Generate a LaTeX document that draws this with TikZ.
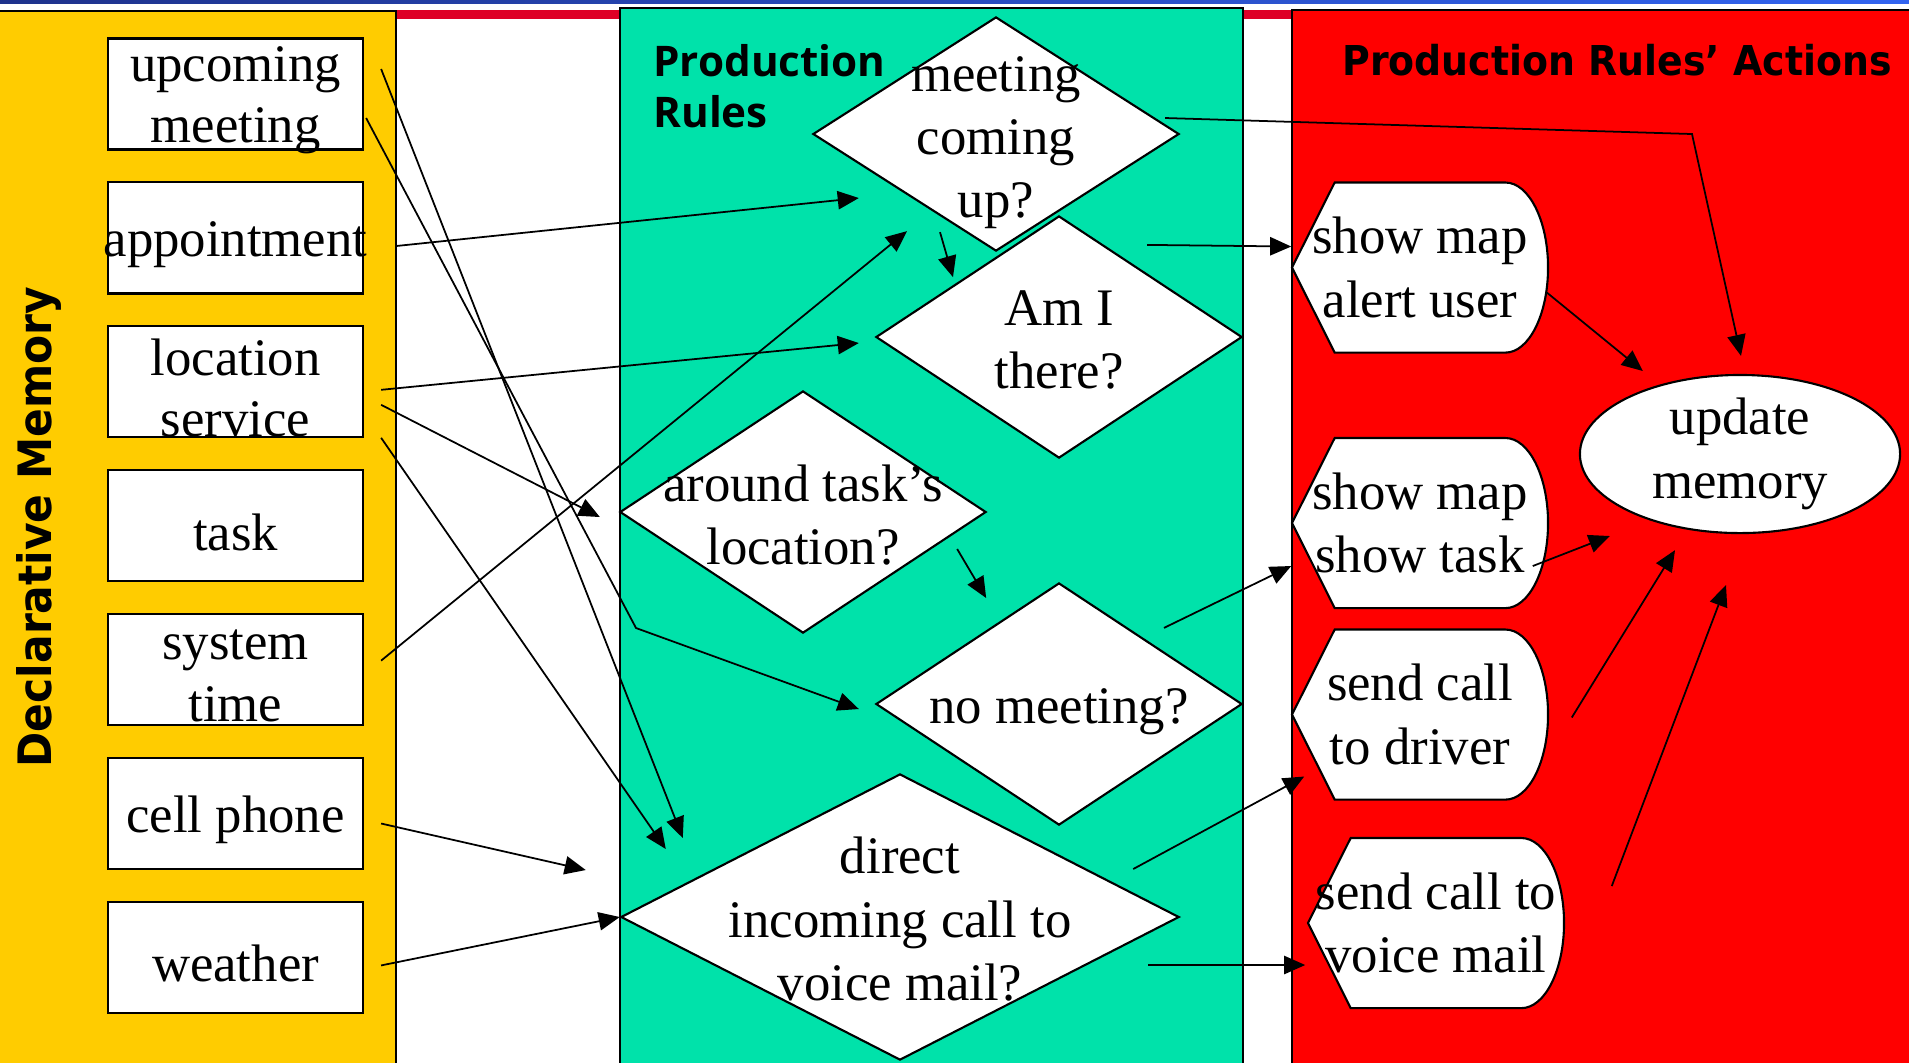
\documentclass[tikz,border=0pt]{standalone}
\usepackage{fontspec}
\setmainfont{Liberation Serif}
\newfontfamily\dmfont{DejaVu Sans}[FakeStretch=0.92]
\newfontfamily\prfont{Open Sans}
\usetikzlibrary{shapes.geometric,arrows.meta}

\definecolor{dmyellow}{RGB}{255,204,0}
\definecolor{prgreen}{RGB}{0,226,170}
\definecolor{actred}{RGB}{255,0,0}
\definecolor{stripred}{RGB}{222,0,38}
\definecolor{bandleft}{RGB}{30,50,140}
\definecolor{bandright}{RGB}{50,100,240}

\begin{document}
\begin{tikzpicture}[x=0.01cm, y=-0.01cm,
    memcell/.style={draw, fill=white, line width=0.6pt, minimum width=2.55cm, minimum height=1.11cm, inner sep=0pt},
    memtext/.style={align=center, inner sep=0pt, font=\fontsize{15}{17.5}\selectfont},
    rule/.style={diamond, draw, fill=white, line width=0.6pt, inner sep=0pt},
    ruletext/.style={align=center, inner sep=0pt, font=\fontsize{15}{18}\selectfont},
    actionshape/.style={fill=white, line width=0.6pt},
    action/.style={minimum width=2.56cm, minimum height=1.7cm, inner sep=0pt, align=center,
      font=\fontsize{15}{18}\selectfont},
    link/.style={line width=0.5pt, -{Triangle[length=6pt,width=5.2pt]}}]
    \useasboundingbox (0,0) rectangle (1909,1062);
    % background bands and panels
    \shade[left color=bandleft, right color=bandright] (0,0) rectangle (1909,3);
    \fill[stripred] (396,10) rectangle (1292,19);
    \filldraw[fill=dmyellow, line width=0.5pt] (-5,11) rectangle (396,1070);
    \filldraw[fill=prgreen, line width=0.5pt] (620,8) rectangle (1243,1070);
    \filldraw[fill=actred, line width=0.5pt] (1292,10) rectangle (1915,1070);
    \node[font=\dmfont\bfseries\fontsize{13.1}{15}\selectfont, rotate=90] (dmtitle) at (39,527) {Declarative Memory};
    \node[font=\prfont\bfseries\fontsize{12}{14.5}\selectfont, align=left, anchor=west] (prtitle) at (641,86) {Production\\Rules};
    \node[font=\dmfont\bfseries\fontsize{11.7}{13}\selectfont] (acttitle) at (1617,60) {Production Rules’ Actions};
    % declarative memory
    \foreach \nm/\txt [count=\i from 0] in {um/{upcoming\\meeting}, appt/appointment, locs/{location\\service},
        task/task, syst/{system\\time}, cell/cell phone, wthr/weather}{
      \node[memcell] (\nm) at (235.5,{94+143.9*\i}) {};
      \node[memtext] (\nm-t) at ([yshift=-1.8pt]\nm) {\txt};
    }
    % production rules
    \node[rule, minimum width=3.66cm, minimum height=2.34cm] (mcu) at (996,134) {};
    \node[rule, minimum width=3.66cm, minimum height=2.42cm] (ami) at (1059,337) {};
    \node[rule, minimum width=3.66cm, minimum height=2.42cm] (atl) at (803,512) {};
    \node[rule, minimum width=3.66cm, minimum height=2.42cm] (nom) at (1059,704) {};
    \node[rule, minimum width=5.58cm, minimum height=2.86cm] (dic) at (900,917) {};
    \node[ruletext] (mcu-t) at ([yshift=-2.4pt]mcu) {meeting\\coming\\up?};
    \node[ruletext] (ami-t) at ([yshift=-0.8pt]ami) {Am I\\there?};
    \node[ruletext] (atl-t) at ([yshift=-0.9pt]atl) {around task’s\\location?};
    \node[ruletext] (nom-t) at ([yshift=-2.3pt]nom) {no meeting?};
    \node[ruletext] (dic-t) at ([yshift=-0.6pt]dic) {direct\\incoming call to\\voice mail?};
    % actions
    \foreach \nm/\cx/\cy/\txt in {smau/1420/267.5/{show map\\alert user}, smst/1420/523/{show map\\show task},
        scd/1420/714.5/{send call\\to driver}, scv/1436/923/{send call to\\voice mail}}{
      \filldraw[actionshape] ({\cx-128},\cy) -- ++(42.67,-85) -- ++(170.67,0)
        arc[start angle=90, end angle=-90, x radius=0.4267cm, y radius=0.85cm] -- ++(-170.67,0) -- cycle;
      \node[action] (\nm) at (\cx,\cy) {\txt};
    }
    \node[ellipse, draw, fill=white, line width=0.6pt, minimum width=3.2cm, minimum height=1.58cm,
      inner sep=0pt, align=center, font=\fontsize{15}{18}\selectfont] (upd) at (1740,454) {update\\memory};
    % connectors
    \draw[link] ([shift={(17,-25)}]um.east) -- ([shift={(63,-79)}]dic.west);
    \draw[link] ([shift={(2,24)}]um.east) -- (636,628) -- ([shift={(-16,5)}]nom.west);
    \draw[link] ([shift={(33,8)}]appt.east) -- ([shift={(47,64)}]mcu.west);
    \draw[link] ([shift={(17,8)}]locs.east) -- ([shift={(-16,6)}]ami.west);
    \draw[link] ([shift={(17,23)}]locs.east) -- ([shift={(-19,5)}]atl.west);
    \draw[link] ([shift={(17,56)}]locs.east) -- ([shift={(46,-68)}]dic.west);
    \draw[link] ([shift={(17,-9)}]syst.east) -- ([shift={(-89,-21)}]mcu.south);
    \draw[link] ([shift={(17,10)}]cell.east) -- ([shift={(-34,-47)}]dic.west);
    \draw[link] ([shift={(17,8)}]wthr.east) -- (dic.west);
    \draw[link] ([shift={(-56,-20)}]mcu.south) -- ([shift={(-43,25)}]mcu.south);
    \draw[link] ([shift={(-15,-16)}]mcu.east) -- (1692,134) -- ([shift={(1,-18)}]upd.north);
    \draw[link] ([shift={(88,30)}]ami.north) -- ([shift={(0,-21)}]smau.west);
    \draw[link] ([shift={(-30,37)}]atl.east) -- ([shift={(-1,86)}]atl.east);
    \draw[link] ([shift={(105,46)}]nom.north) -- ([shift={(0,43)}]smst.west);
    \draw[link] ([shift={(-47,-48)}]dic.east) -- ([shift={(13,62)}]scd.west);
    \draw[link] ([shift={(-32,48)}]dic.east) -- ([shift={(-2,42)}]scv.west);
    \draw[link] ([shift={(-2,25)}]smau.east) -- ([shift={(64,-83)}]upd.west);
    \draw[link] ([shift={(-16,43)}]smst.east) -- ([shift={(31,82)}]upd.west);
    \draw[link] ([shift={(23,3)}]scd.east) -- ([shift={(-65,16)}]upd.south);
    \draw[link] ([shift={(47,-37)}]scv.east) -- ([shift={(-14,51)}]upd.south);
\end{tikzpicture}
\end{document}
